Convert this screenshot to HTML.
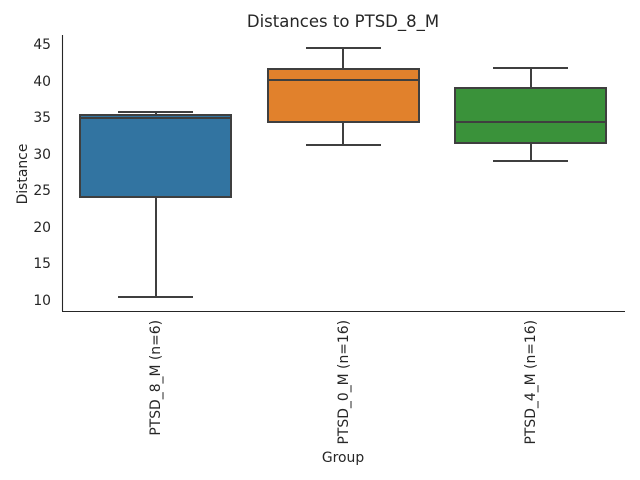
<!DOCTYPE html>
<html><head><meta charset="utf-8"><style>
html,body{margin:0;padding:0;background:#fff;}
svg{display:block;font-family:"DejaVu Sans","Liberation Sans",sans-serif;}
</style></head><body>
<svg width="640" height="480" viewBox="0 0 640 480" xmlns="http://www.w3.org/2000/svg">
<rect width="640" height="480" fill="#fff"/>
<text x="343" y="27" font-size="16.5" text-anchor="middle" fill="#262626">Distances to PTSD_8_M</text>
<g font-size="13.9" fill="#262626" text-anchor="end">
<text x="51" y="49">45</text>
<text x="51" y="86">40</text>
<text x="51" y="122">35</text>
<text x="51" y="159">30</text>
<text x="51" y="195">25</text>
<text x="51" y="232">20</text>
<text x="51" y="268">15</text>
<text x="51" y="305">10</text>
</g>
<text transform="translate(27,174) rotate(-90)" font-size="13.9" fill="#262626" text-anchor="middle">Distance</text>
<text x="343" y="462" font-size="13.9" fill="#262626" text-anchor="middle">Group</text>
<g font-size="13.9" fill="#262626" text-anchor="end">
<text transform="translate(160,320) rotate(-90)">PTSD_8_M (n=6)</text>
<text transform="translate(348,320) rotate(-90)">PTSD_0_M (n=16)</text>
<text transform="translate(535,320) rotate(-90)">PTSD_4_M (n=16)</text>
</g>
<g stroke="#3f3f3f" stroke-width="2" fill="none">
<line x1="156" y1="197" x2="156" y2="297"/>
<line x1="156" y1="115" x2="156" y2="112"/>
<line x1="118" y1="297" x2="193" y2="297"/>
<line x1="118" y1="112" x2="193" y2="112"/>
<rect x="80" y="115" width="151" height="82" fill="#3274a1"/>
<line x1="80" y1="118" x2="231" y2="118"/>
<line x1="343" y1="122" x2="343" y2="145"/>
<line x1="343" y1="69" x2="343" y2="48"/>
<line x1="306" y1="145" x2="381" y2="145"/>
<line x1="306" y1="48" x2="381" y2="48"/>
<rect x="268" y="69" width="151" height="53" fill="#e1812c"/>
<line x1="268" y1="80" x2="419" y2="80"/>
<line x1="531" y1="143" x2="531" y2="161"/>
<line x1="531" y1="88" x2="531" y2="68"/>
<line x1="493" y1="161" x2="568" y2="161"/>
<line x1="493" y1="68" x2="568" y2="68"/>
<rect x="455" y="88" width="151" height="55" fill="#3a923a"/>
<line x1="455" y1="122" x2="606" y2="122"/>
</g>
<g stroke="#262626" stroke-width="1.1">
<line x1="62.5" y1="35" x2="62.5" y2="311"/>
<line x1="62" y1="311.5" x2="625" y2="311.5"/>
</g>
</svg>
</body></html>
